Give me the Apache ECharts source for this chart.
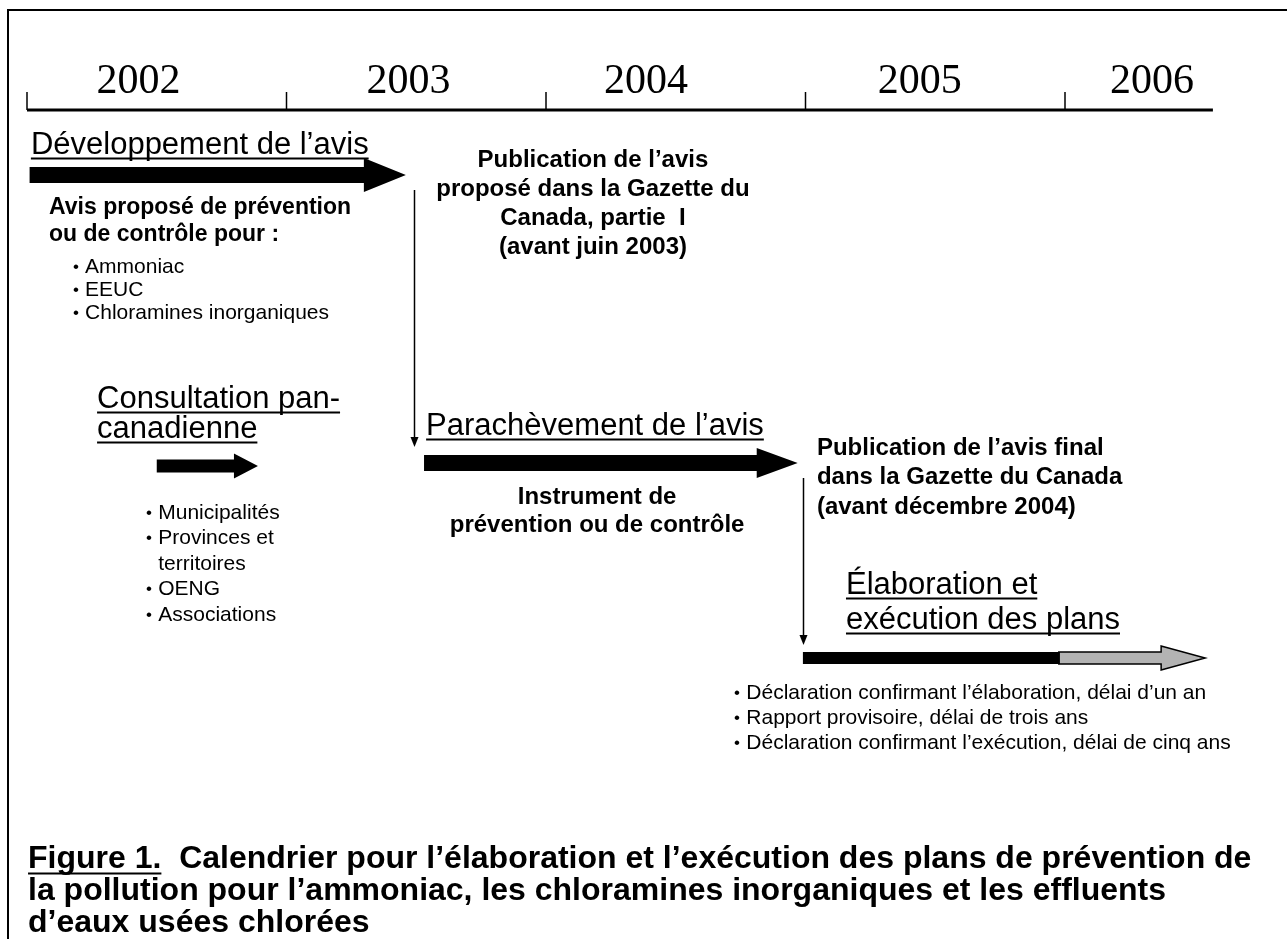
<!DOCTYPE html>
<html>
<head>
<meta charset="utf-8">
<title>Calendrier</title>
<script src="https://cdn.jsdelivr.net/npm/echarts@6/dist/echarts.min.js"></script>
<style>
  html, body { margin: 0; padding: 0; background: #fff; }
  #chart { width: 1287px; height: 939px; }
</style>
</head>
<body>
<div id="chart"></div>
<script>
// ---- data ----
const years = ['2002', '2003', '2004', '2005', '2006'];
const yearStart = [2002, 2003, 2004, 2005, 2006];
const timelineEnd = 2006.57;

const phaseNames = [
  ['Développement de l’avis'],
  ['Consultation pan-', 'canadienne'],
  ['Parachèvement de l’avis'],
  ['Élaboration et', 'exécution des plans']
];
const phaseStart = [2002.01, 2002.50, 2003.53, 2004.99];
const phaseEnd = [2003.46, 2002.89, 2004.97, 2006.54];
const planFirstYearEnd = 2005.98; // solid part of the last arrow

const milestoneDate = [2003.49, 2004.99];

const devNotes = ['Avis proposé de prévention', 'ou de contrôle pour :'];
const devSubstances = ['Ammoniac', 'EEUC', 'Chloramines inorganiques'];
const pub1Lines = ['Publication de l’avis', 'proposé dans la Gazette du', 'Canada, partie  I', '(avant juin 2003)'];
const consultees = ['Municipalités', 'Provinces et\nterritoires', 'OENG', 'Associations'];
const instrumentLines = ['Instrument de', 'prévention ou de contrôle'];
const pub2Lines = ['Publication de l’avis final', 'dans la Gazette du Canada', '(avant décembre 2004)'];
const planReports = [
  'Déclaration confirmant l’élaboration, délai d’un an',
  'Rapport provisoire, délai de trois ans',
  'Déclaration confirmant l’exécution, délai de cinq ans'
];
const captionLead = 'Figure 1.';
const captionLines = [
  'Calendrier pour l’élaboration et l’exécution des plans de prévention de',
  'la pollution pour l’ammoniac, les chloramines inorganiques et les effluents',
  'd’eaux usées chlorées'
];

// ---- layout ----
const SANS = '"Liberation Sans", Arial, sans-serif';
const SERIF = '"Liberation Serif", "Times New Roman", serif';
const ORIGIN_PX = 27, YEAR_PX = 259.5;
const xMin = yearStart[0] - ORIGIN_PX / YEAR_PX;
const xMax = xMin + 1287 / YEAR_PX;

const AXIS_Y = 110, TICK_TOP = 92, YEAR_LABEL_Y = 82;
const yearLabelAt = [2002.43, 2003.47, 2004.385, 2005.44, 2006.335];
const phaseRow = [175, 466, 463, 658];
const phaseShaft = [8, 6.5, 8, 6];
const phaseHead = [17, 12.5, 15, 12];
const phaseHeadLen = [42, 24, 41, 44];
const milestoneTop = [190, 478];
const milestoneTip = [447, 645];

const H_FONT = '31px ' + SANS;
const B_FONT = 'bold 24px ' + SANS;
const L_FONT = '21px ' + SANS;
const C_FONT = 'bold 32px ' + SANS;

function plain(arr) { return arr.map(t => ({ text: t })); }
function underlined(arr) { return arr.map(t => ({ text: t, underline: true })); }
function bulleted(arr) {
  const out = [];
  arr.forEach(item => {
    item.split('\n').forEach((t, k) => out.push({ text: t, bullet: k === 0, indent: true }));
  });
  return out;
}

const textBlocks = [
  { x: 2002.015, y: 145, lh: 30, font: H_FONT, lines: underlined(phaseNames[0]) },
  { x: 2002.085, y: 208, lh: 27, font: 'bold 23px ' + SANS, lines: plain(devNotes) },
  { x: 2002.173, y: 267, lh: 23, font: L_FONT, lines: bulleted(devSubstances) },
  { x: 2004.181, y: 160, lh: 29, font: B_FONT, lines: plain(pub1Lines), align: 'center' },
  { x: 2002.27, y: 399, lh: 30, font: H_FONT, lines: underlined(phaseNames[1]) },
  { x: 2002.455, y: 513, lh: 25.5, font: L_FONT, lines: bulleted(consultees) },
  { x: 2003.538, y: 426, lh: 30, font: H_FONT, lines: underlined(phaseNames[2]) },
  { x: 2004.197, y: 497, lh: 28, font: B_FONT, lines: plain(instrumentLines), align: 'center' },
  { x: 2005.044, y: 448, lh: 29.5, font: B_FONT, lines: plain(pub2Lines) },
  { x: 2005.156, y: 585, lh: 35, font: H_FONT, lines: underlined(phaseNames[3]) },
  { x: 2004.721, y: 693, lh: 25, font: L_FONT, lines: bulleted(planReports) },
  { x: 2002.004, y: 859, lh: 32, font: C_FONT, lines: plain(captionLines), lead: captionLead }
];

const measureCtx = document.createElement('canvas').getContext('2d');
function textWidth(str, font) {
  measureCtx.font = font;
  return measureCtx.measureText(str).width;
}
function fontSize(font) {
  return parseFloat(font.match(/([\d.]+)px/)[1]);
}
function textEl(text, x, y, font, align) {
  return {
    type: 'text',
    style: { text: text, x: x, y: y, font: font, fill: '#000', align: align || 'left', verticalAlign: 'middle' }
  };
}
function underlineEl(x0, w, y, fs) {
  const uy = Math.round(y + fs * 0.43) + 0.5;
  return { type: 'line', shape: { x1: x0, y1: uy, x2: x0 + w, y2: uy }, style: { stroke: '#000', lineWidth: 2 } };
}

// ---- renderers ----
function renderTimeline(params, api) {
  const p = api.coord([api.value(0), api.value(1)]);
  const lp = api.coord([api.value(2), YEAR_LABEL_Y]);
  const top = api.coord([api.value(0), TICK_TOP]);
  return {
    type: 'group',
    children: [
      { type: 'line', shape: { x1: p[0], y1: top[1], x2: p[0], y2: p[1] }, style: { stroke: '#000', lineWidth: 1.5 } },
      textEl(years[params.dataIndex], lp[0], lp[1], '42px ' + SERIF, 'center')
    ]
  };
}

function arrowPoints(x0, x1, y, shaft, head, len) {
  const hx = x1 - len;
  return [[x0, y - shaft], [hx, y - shaft], [hx, y - head], [x1, y], [hx, y + head], [hx, y + shaft], [x0, y + shaft]];
}

function renderPhase(params, api) {
  const i = params.dataIndex;
  const a = api.coord([api.value(0), api.value(2)]);
  const b = api.coord([api.value(1), api.value(2)]);
  if (i !== 3) {
    return {
      type: 'polygon',
      shape: { points: arrowPoints(a[0], b[0], a[1], phaseShaft[i], phaseHead[i], phaseHeadLen[i]) },
      style: { fill: '#000' }
    };
  }
  // last phase: first year solid, the rest grey outlined
  const m = api.coord([planFirstYearEnd, api.value(2)]);
  return {
    type: 'group',
    children: [
      {
        type: 'polygon',
        shape: { points: arrowPoints(m[0] - 1, b[0], a[1], phaseShaft[i], phaseHead[i], phaseHeadLen[i]) },
        style: { fill: '#b3b3b3', stroke: '#000', lineWidth: 1.5 }
      },
      {
        type: 'rect',
        shape: { x: a[0], y: a[1] - phaseShaft[i], width: m[0] - a[0], height: phaseShaft[i] * 2 },
        style: { fill: '#000' }
      }
    ]
  };
}

function renderMilestone(params, api) {
  const t = api.coord([api.value(0), api.value(1)]);
  const b = api.coord([api.value(0), api.value(2)]);
  const x = Math.round(t[0]) + 0.5;
  return {
    type: 'group',
    children: [
      { type: 'line', shape: { x1: x, y1: t[1], x2: x, y2: b[1] - 8 }, style: { stroke: '#000', lineWidth: 1.5 } },
      { type: 'polygon', shape: { points: [[x - 4, b[1] - 10], [x + 4, b[1] - 10], [x, b[1]]] }, style: { fill: '#000' } }
    ]
  };
}

function renderText(params, api) {
  const blk = textBlocks[params.dataIndex];
  const p = api.coord([api.value(0), api.value(1)]);
  const fs = fontSize(blk.font);
  const bulletGap = textWidth('• ', blk.font);
  const bulletFont = Math.round(fs * 0.8) + 'px ' + SANS;
  const children = [];
  blk.lines.forEach((ln, k) => {
    const y = p[1] + k * blk.lh;
    let x = p[0];
    if (ln.bullet) children.push(textEl('•', x + 1, y, bulletFont));
    if (ln.indent) x += bulletGap;
    if (blk.lead && k === 0) {
      const lw = textWidth(blk.lead, blk.font);
      children.push(textEl(blk.lead, x, y, blk.font));
      children.push(underlineEl(x, lw, y, fs));
      x += lw + textWidth('  ', blk.font);
    }
    children.push(textEl(ln.text, x, y, blk.font, blk.align));
    if (ln.underline) {
      const w = textWidth(ln.text, blk.font);
      children.push(underlineEl(blk.align === 'center' ? x - w / 2 : x, w, y, fs));
    }
  });
  return { type: 'group', children: children };
}

// ---- chart ----
const chart = echarts.init(document.getElementById('chart'));
chart.setOption({
  backgroundColor: '#fff',
  animation: false,
  grid: { left: 0, right: 0, top: 0, bottom: 0 },
  xAxis: { type: 'value', min: xMin, max: xMax, show: false },
  yAxis: { type: 'value', min: 0, max: 939, inverse: true, show: false },
  graphic: [
    {
      type: 'polyline',
      silent: true,
      shape: { points: [[8, 945], [8, 10], [1295, 10]] },
      style: { stroke: '#000', lineWidth: 2, fill: null }
    }
  ],
  series: [
    {
      name: 'axe',
      type: 'line',
      silent: true,
      symbol: 'none',
      data: [[yearStart[0], AXIS_Y], [timelineEnd, AXIS_Y]],
      lineStyle: { color: '#000', width: 3 }
    },
    {
      name: 'années',
      type: 'custom',
      silent: true,
      renderItem: renderTimeline,
      data: yearStart.map((y, i) => [y, AXIS_Y, yearLabelAt[i]])
    },
    {
      name: 'étapes',
      type: 'custom',
      silent: true,
      renderItem: renderPhase,
      data: phaseStart.map((s, i) => [s, phaseEnd[i], phaseRow[i]])
    },
    {
      name: 'jalons',
      type: 'custom',
      silent: true,
      renderItem: renderMilestone,
      data: milestoneDate.map((d, i) => [d, milestoneTop[i], milestoneTip[i]])
    },
    {
      name: 'textes',
      type: 'custom',
      silent: true,
      renderItem: renderText,
      data: textBlocks.map(b => [b.x, b.y])
    }
  ]
});
</script>
</body>
</html>
